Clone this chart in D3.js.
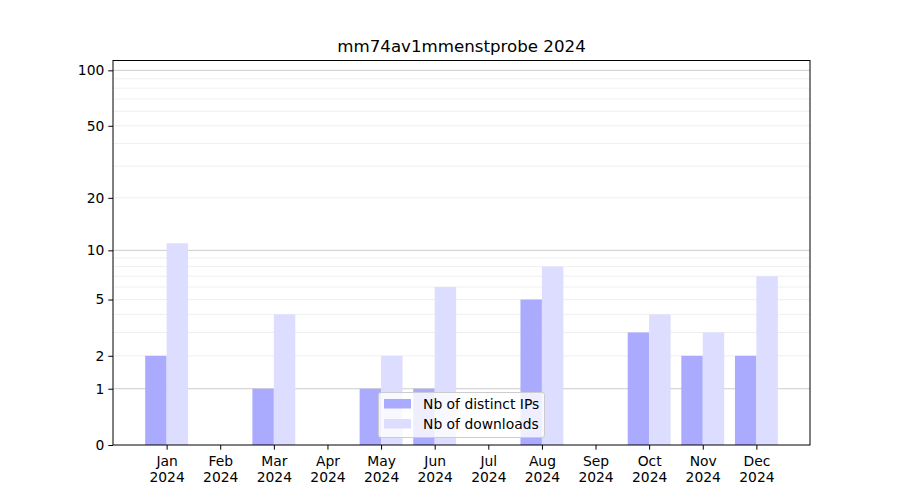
<!DOCTYPE html>
<html><head><meta charset="utf-8">
<script src="https://cdn.jsdelivr.net/npm/d3@7"></script>
<style>body{margin:0;background:#fff;} svg{font-family:"DejaVu Sans",sans-serif;}</style>
</head><body>
<svg id="c" width="900" height="500"></svg>
<script>
const months = ["Jan","Feb","Mar","Apr","May","Jun","Jul","Aug","Sep","Oct","Nov","Dec"];
const year = "2024";
const ips = [2,0,1,0,1,1,0,5,0,3,2,2];
const downloads = [11,0,4,0,2,6,0,8,0,4,3,7];
const yTicks = [0,1,2,5,10,20,50,100];
const title = "mm74av1mmenstprobe 2024";
const seriesNames = ["Nb of distinct IPs","Nb of downloads"];
const colors = ["#aaaaff","#ddddff"];

const FS = "13.89px";
const svg = d3.select("#c");
const L=113, R=810, T=60.5, B=445;
const x = d3.scaleLinear().domain([-1,12]).range([L,R]);
const y = d3.scaleSymlog().constant(1).domain([0,113]).range([B,T]);

// grid
const minor = [];
[1,10].forEach(d=>{for(let k=2;k<=9;k++) minor.push(k*d);});
const g = svg.append("g");
g.selectAll(".mn").data(minor.filter(v=>v<113)).enter().append("line")
  .attr("x1",L).attr("x2",R).attr("y1",d=>y(d)).attr("y2",d=>y(d))
  .attr("stroke","#ebebeb").attr("stroke-width",0.8);
g.selectAll(".mj").data([1,10,100]).enter().append("line")
  .attr("x1",L).attr("x2",R).attr("y1",d=>y(d)).attr("y2",d=>y(d))
  .attr("stroke","#cccccc").attr("stroke-width",1);

// bars
const bw = 0.4;
svg.append("g").selectAll("rect").data(ips).enter().append("rect")
  .attr("x",(d,i)=>x(i-bw)).attr("width",x(bw)-x(0))
  .attr("y",d=>y(d)).attr("height",d=>B-y(d)).attr("fill",colors[0]);
svg.append("g").selectAll("rect").data(downloads).enter().append("rect")
  .attr("x",(d,i)=>x(i)).attr("width",x(bw)-x(0))
  .attr("y",d=>y(d)).attr("height",d=>B-y(d)).attr("fill",colors[1]);

// frame
svg.append("rect").attr("x",L).attr("y",T).attr("width",R-L).attr("height",B-T)
  .attr("fill","none").attr("stroke","#000").attr("stroke-width",1);

// y axis
const ya = svg.append("g").attr("transform",`translate(${L},0)`)
  .call(d3.axisLeft(y).tickValues(yTicks).tickFormat(d3.format("d")).tickSize(4.7).tickPadding(4));
ya.attr("font-family","DejaVu Sans").attr("font-size",FS);
ya.select(".domain").remove();
ya.selectAll("text").attr("fill","#000");
ya.selectAll("line").attr("stroke","#000");

// x axis
const xa = svg.append("g").attr("transform",`translate(0,${B})`)
  .call(d3.axisBottom(x).tickValues(d3.range(12)).tickFormat("").tickSize(4.7));
xa.attr("font-family","DejaVu Sans").attr("font-size",FS);
xa.select(".domain").remove();
xa.selectAll("line").attr("stroke","#000");
xa.selectAll(".tick").each(function(d){
  const t = d3.select(this).append("text").attr("fill","#000")
    .attr("text-anchor","middle");
  t.append("tspan").attr("x",0).attr("y",20.8).text(months[d]);
  t.append("tspan").attr("x",0).attr("y",37.3).text(year);
});

// title
svg.append("text").attr("x",(L+R)/2).attr("y",52).attr("text-anchor","middle")
  .attr("font-size","16.67px").attr("fill","#000").text(title);

// legend
const lg = svg.append("g").attr("font-size",FS);
lg.append("rect").attr("x",378.5).attr("y",392.5).attr("width",166).attr("height",45)
  .attr("rx",2.5).attr("fill","#fff").attr("fill-opacity",0.8).attr("stroke","#cccccc").attr("stroke-width",1);
seriesNames.forEach((n,i)=>{
  lg.append("rect").attr("x",384).attr("y",399+i*20).attr("width",27).attr("height",9.5).attr("fill",colors[i]);
  lg.append("text").attr("x",423).attr("y",408.5+i*20).attr("fill","#000").text(n);
});
</script>
</body></html>
